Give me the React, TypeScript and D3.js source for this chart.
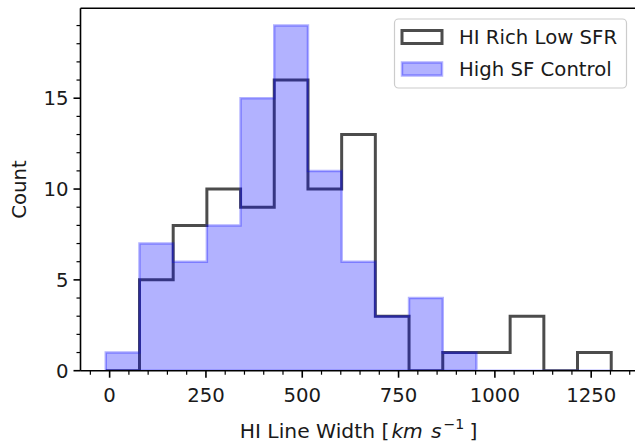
import React from "react";
import * as d3 from "d3";

const BIN_EDGES = [-10, 77.5, 165, 252.4, 339.9, 427.3, 514.8, 602.3, 689.7, 777.2, 864.7, 952.1, 1039.6, 1127.1, 1214.5, 1302];
const LOW_SFR_COUNTS = [0, 5, 8, 10, 9, 16, 10, 13, 3, 0, 1, 1, 3, 0, 1];
const CONTROL_COUNTS = [1, 7, 6, 8, 15, 19, 11, 6, 3, 4, 1, 0, 0, 0, 0];
const X_TICKS = [0, 250, 500, 750, 1000, 1250];
const Y_TICKS = [0, 5, 10, 15];
const SERIES_LABELS = ["HI Rich Low SFR", "High SF Control"];

const W = 635;
const H = 444;
const FONT = "DejaVu Sans, sans-serif";
const FS = 19.7;

export default function App() {
  const left = 80.5;
  const top = 8.3;
  const bottom = 370.7;
  const lo = BIN_EDGES[0];
  const hi = BIN_EDGES[BIN_EDGES.length - 1];
  const margin = 0.05 * (hi - lo);
  const x = d3.scaleLinear().domain([lo - margin, hi + margin]).range([left, left + 556]);
  const right = x.range()[1];
  const ymax = Math.max(d3.max(LOW_SFR_COUNTS)!, d3.max(CONTROL_COUNTS)!) * 1.05;
  const y = d3.scaleLinear().domain([0, ymax]).range([bottom, top]);

  const stepPts = (counts: number[]) => {
    const pts: [number, number][] = [[BIN_EDGES[0], 0]];
    counts.forEach((c, i) => {
      pts.push([BIN_EDGES[i], c]);
      pts.push([BIN_EDGES[i + 1], c]);
    });
    pts.push([BIN_EDGES[BIN_EDGES.length - 1], 0]);
    return pts;
  };
  const line = d3.line<[number, number]>().x((d) => x(d[0])).y((d) => y(d[1]));
  const blackPath = line(stepPts(LOW_SFR_COUNTS))!;
  const bluePath = line(stepPts(CONTROL_COUNTS))! + "Z";

  const xMinor = d3.range(-50, 1400, 50).filter((v) => v >= x.domain()[0] && v <= x.domain()[1] && !X_TICKS.includes(v));
  const yMinor = d3.range(0, 20, 1).filter((v) => v <= ymax && !Y_TICKS.includes(v));

  const majorLen = 7;
  const minorLen = 4;
  const tickColor = "#000";
  const textColor = "#1a1a1a";

  const legX = 394.5;
  const legY = 19;
  const legW = 232;
  const legH = 69;

  return (
    <svg width={W} height={H} style={{ position: "absolute", left: 0, top: 0, background: "#fff" }} fontFamily={FONT}>
      <defs>
        <clipPath id="axclip">
          <rect x={left} y={top} width={right - left} height={bottom - top} />
        </clipPath>
      </defs>
      <rect x={0} y={0} width={W} height={H} fill="#fff" />
      <g clipPath="url(#axclip)">
        <path d={blackPath} fill="none" stroke="#000" strokeOpacity={0.7} strokeWidth={3} strokeLinejoin="miter" />
        <path d={bluePath} fill="#0000ff" fillOpacity={0.3} stroke="#0000ff" strokeOpacity={0.3} strokeWidth={2.5} strokeLinejoin="miter" />
      </g>
      {/* spines */}
      <line x1={left} x2={left} y1={top} y2={bottom} stroke="#000" strokeWidth={1.6} />
      <line x1={left} x2={right} y1={bottom} y2={bottom} stroke="#000" strokeWidth={1.6} />
      <line x1={left} x2={right} y1={top} y2={top} stroke="#000" strokeWidth={1.6} />
      <line x1={right} x2={right} y1={top} y2={bottom} stroke="#000" strokeWidth={1.6} />
      {/* x ticks */}
      {X_TICKS.map((t) => (
        <g key={"xt" + t}>
          <line x1={x(t)} x2={x(t)} y1={bottom} y2={bottom + majorLen} stroke={tickColor} strokeWidth={1.6} />
          <text x={x(t)} y={401.7} textAnchor="middle" fontSize={FS} fill={textColor}>
            {t}
          </text>
        </g>
      ))}
      {xMinor.map((t) => (
        <line key={"xm" + t} x1={x(t)} x2={x(t)} y1={bottom} y2={bottom + minorLen} stroke={tickColor} strokeWidth={1.2} />
      ))}
      {/* y ticks */}
      {Y_TICKS.map((t) => (
        <g key={"yt" + t}>
          <line x1={left} x2={left - majorLen} y1={y(t)} y2={y(t)} stroke={tickColor} strokeWidth={1.6} />
          <text x={68.5} y={y(t)} dy="0.36em" textAnchor="end" fontSize={FS} fill={textColor}>
            {t}
          </text>
        </g>
      ))}
      {yMinor.map((t) => (
        <line key={"ym" + t} x1={left} x2={left - minorLen} y1={y(t)} y2={y(t)} stroke={tickColor} strokeWidth={1.2} />
      ))}
      {/* axis labels */}
      <text x={(left + right) / 2} y={438} textAnchor="middle" fontSize={20.3} fill={textColor}>
        <tspan>HI Line Width [</tspan>
        <tspan dx={2} fontStyle="italic">km</tspan>
        <tspan dx={8} fontStyle="italic">s</tspan>
        <tspan dx={2} dy={-9} fontSize={14.2}>−1</tspan>
        <tspan dx={5} dy={9}>]</tspan>
      </text>
      <text transform={`translate(26,${(top + bottom) / 2}) rotate(-90)`} textAnchor="middle" fontSize={FS} fill={textColor}>
        Count
      </text>
      {/* legend */}
      <rect x={legX} y={legY} width={legW} height={legH} rx={4} fill="#fff" fillOpacity={0.8} stroke="#cccccc" strokeWidth={1.2} />
      <rect x={402} y={30.5} width={40} height={13} fill="#fff" stroke="#000" strokeOpacity={0.7} strokeWidth={3} />
      <text x={459} y={44.3} fontSize={FS} fill={textColor}>{SERIES_LABELS[0]}</text>
      <rect x={402} y={62.5} width={40} height={13} fill="#0000ff" fillOpacity={0.3} stroke="#0000ff" strokeOpacity={0.3} strokeWidth={2.5} />
      <text x={459} y={76.3} fontSize={FS} fill={textColor}>{SERIES_LABELS[1]}</text>
    </svg>
  );
}
